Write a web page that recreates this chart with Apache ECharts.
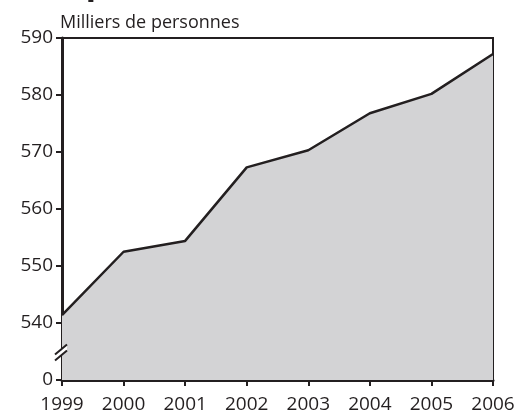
<!DOCTYPE html>
<html>
<head>
<meta charset="utf-8">
<script src="https://cdn.jsdelivr.net/npm/echarts@6/dist/echarts.min.js"></script>
<style>
  html, body { margin: 0; padding: 0; background: #fff; }
  #chart { width: 527px; height: 417px; }
</style>
</head>
<body>
<div id="chart"></div>
<script>
// data
const years = ['1999', '2000', '2001', '2002', '2003', '2004', '2005', '2006'];
const persons = [541.4, 552.5, 554.4, 567.3, 570.3, 576.8, 580.2, 587.2];
// the axis is broken: the lowest tick stands for 0
const axisFloor = 530;
const yTicks = [530, 540, 550, 560, 570, 580, 590];

const ink = '#231f20';
const font = '"Open Sans", sans-serif';

const chart = echarts.init(document.getElementById('chart'));

chart.setOption({
  animation: false,
  grid: {
    left: 62, right: 34, top: 38, bottom: 37,
    show: true, borderColor: ink, borderWidth: 2, backgroundColor: 'transparent'
  },
  xAxis: {
    type: 'category',
    data: years,
    boundaryGap: false,
    axisLine: { lineStyle: { color: ink, width: 3 } },
    axisTick: { alignWithLabel: true, length: 6, lineStyle: { color: ink, width: 2 } },
    axisLabel: { color: ink, fontFamily: font, fontSize: 19, margin: 15 },
    splitLine: { show: false }
  },
  yAxis: {
    type: 'value',
    min: axisFloor,
    max: yTicks[yTicks.length - 1],
    interval: 10,
    name: 'Milliers de personnes',
    nameLocation: 'end',
    nameGap: 6,
    nameTextStyle: { color: ink, fontFamily: font, fontSize: 18, align: 'left', padding: [0, 0, 0, -2] },
    axisLine: { show: true, lineStyle: { color: ink, width: 3 } },
    axisTick: { show: true, length: 6, lineStyle: { color: ink, width: 2 } },
    axisLabel: {
      color: ink, fontFamily: font, fontSize: 19, margin: 9,
      formatter: v => (v === axisFloor ? '0' : String(v))
    },
    splitLine: { show: false }
  },
  series: [{
    type: 'line',
    data: persons,
    symbol: 'none',
    lineStyle: { color: ink, width: 2.5 },
    areaStyle: { color: '#d3d3d5', opacity: 1, origin: 'start' }
  }]
});

// break marks on the y axis, half way between the 0 tick and 540
const by = chart.convertToPixel({ yAxisIndex: 0 }, 535) + 2;
const bx = chart.convertToPixel({ xAxisIndex: 0 }, 0);
chart.setOption({
  graphic: [
    {
      type: 'polygon', z: 100,
      shape: { points: [[bx - 7, by + 2], [bx + 5, by - 8], [bx + 5, by - 3], [bx - 7, by + 7]] },
      style: { fill: '#fff' }
    },
    {
      type: 'line', z: 101,
      shape: { x1: bx - 7, y1: by + 1, x2: bx + 5, y2: by - 9 },
      style: { stroke: ink, lineWidth: 2 }
    },
    {
      type: 'line', z: 101,
      shape: { x1: bx - 7, y1: by + 7, x2: bx + 5, y2: by - 3 },
      style: { stroke: ink, lineWidth: 2 }
    },
    {
      // cut-off title glyph at the top edge
      type: 'text', left: 83, top: -62, z: 100,
      style: { text: 'p', font: '62px "Open Sans", sans-serif', fill: ink }
    }
  ]
});
</script>
</body>
</html>
